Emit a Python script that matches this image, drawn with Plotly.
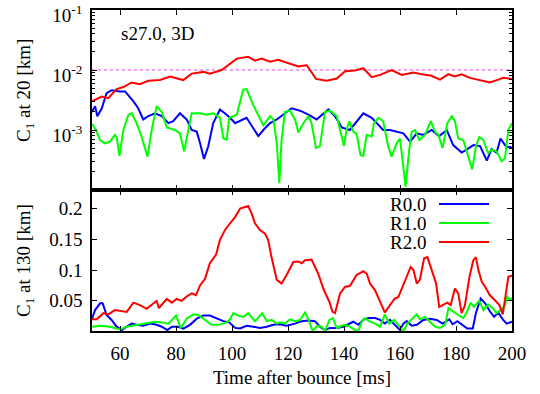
import plotly.graph_objects as go

# ---------------- data ----------------
# Top panel: C1 at 20 km (log scale)
top_r0_t = [50, 51.1, 51.9, 53.5, 55.2, 57, 60, 61.8, 64.8, 66.5, 68.3, 70.1, 72.5, 74.9, 77.3, 79, 81.4, 83.8,
            85.6, 87.4, 88.6, 90, 91.5, 93.3, 95.7, 98.1, 100.5, 101.1, 105.2, 107, 109.4, 111.2, 113.6, 116,
            118.3, 121.3, 124.3, 127.3, 130.2, 134.4, 136.8, 139.2, 142.1, 144.5, 146.9, 149.9, 151.7, 154,
            156.4, 158.8, 161.2, 163.6, 166, 168.3, 171.3, 174, 176.7, 179, 182, 183.8, 186.2, 188.6, 191,
            192.7, 194.5, 195.9, 197.9, 200]
top_r0_v = [0.0020, 0.0025, 0.0017, 0.0023, 0.0041, 0.0046, 0.0044, 0.0044, 0.0030, 0.0023, 0.0015, 0.0017,
            0.0019, 0.0017, 0.0013, 0.0014, 0.0019, 0.0015, 0.0010, 0.00094, 0.0006, 0.00033, 0.00053, 0.0013,
            0.0022, 0.0018, 0.0014, 0.0013, 0.0016, 0.0012, 0.00079, 0.0010, 0.0013, 0.0015, 0.0018, 0.0023,
            0.0021, 0.0018, 0.0015, 0.0022, 0.0017, 0.0011, 0.0010, 0.0014, 0.0019, 0.0016, 0.0013, 0.0010,
            0.0010, 0.00094, 0.00088, 0.00064, 0.00088, 0.00083, 0.0010, 0.00079, 0.0010, 0.00056, 0.00042,
            0.00047, 0.00056, 0.00054, 0.00031, 0.00048, 0.00042, 0.00072, 0.00053, 0.00051]

top_r1_t = [50, 51.4, 52.9, 54.6, 56.4, 58.2, 58.8, 59.8, 61.2, 63, 64.2, 65.9, 67.7, 69.8, 71.3, 73.1, 74.9,
            76.7, 79.6, 81.4, 82.9, 85.6, 88.6, 90.9, 93.3, 95.7, 96.9, 98.1, 99, 100.5, 101.7, 104, 105.2,
            107.6, 110, 111.2, 113.6, 114.8, 116, 116.9, 117.7, 118.9, 120.7, 122.5, 123.7, 125.5, 127.3,
            128.4, 130, 131.4, 133.2, 135, 137.4, 140, 140.9, 141.9, 143.3, 144.5, 145.9, 146.9, 148.1, 149.9,
            150.7, 152.3, 154, 155.8, 157, 158.8, 160, 162, 163.3, 164.2, 165.4, 166.9, 168.9, 171, 172.5,
            173.7, 175.2, 176.9, 178.5, 179.6, 180.8, 182.6, 185.8, 187.1, 188.3, 189.8, 191.5, 192.7, 194.5,
            196.3, 197.5, 198.7, 200]
top_r1_v = [0.00126, 0.0010, 0.00068, 0.0006, 0.00064, 0.00083, 0.00076, 0.00037, 0.0010, 0.0018, 0.0019,
            0.0013, 0.00078, 0.00036, 0.0010, 0.0025, 0.0020, 0.0011, 0.0010, 0.00088, 0.00044, 0.0019, 0.0019,
            0.0018, 0.0019, 0.0016, 0.00073, 0.00069, 0.0016, 0.0017, 0.0018, 0.0047, 0.0048, 0.0026, 0.0016,
            0.0012, 0.0017, 0.0015, 0.0006, 0.00013, 0.00068, 0.0020, 0.0021, 0.0015, 0.00091, 0.0013, 0.0017,
            0.0013, 0.0005, 0.00054, 0.0020, 0.0021, 0.0017, 0.00054, 0.0010, 0.0014, 0.00094, 0.00086, 0.00038,
            0.00037, 0.00083, 0.00078, 0.0013, 0.0016, 0.0014, 0.00053, 0.00036, 0.0006, 0.00072, 0.000114,
            0.00047, 0.00094, 0.0010, 0.00068, 0.00083, 0.0014, 0.00094, 0.00083, 0.0005, 0.0013, 0.0017,
            0.0014, 0.00072, 0.00068, 0.00022, 0.00053, 0.00076, 0.00068, 0.00041, 0.00047, 0.00044, 0.0003,
            0.00034, 0.0010, 0.0013]

top_r2_t = [50, 53.5, 55.8, 58.8, 61.2, 64.2, 67.1, 70.1, 74.3, 77.9, 82.6, 85.6, 89.8, 92.1, 96.3, 99.3,
            101.7, 105.8, 108.2, 110.6, 113.6, 116.5, 120.1, 123.7, 126.7, 130, 133.8, 137.4, 140.4, 143.9,
            146.9, 149.9, 152.9, 157, 160.6, 164.8, 168.9, 171, 174.3, 177.3, 179.6, 182, 185, 188.6, 192.1,
            195.1, 196.9, 200]
top_r2_v = [0.0030, 0.0036, 0.0034, 0.0048, 0.0052, 0.0062, 0.0058, 0.0066, 0.0068, 0.0078, 0.0068, 0.0087,
            0.0093, 0.0087, 0.0100, 0.0129, 0.0155, 0.0166, 0.0143, 0.0155, 0.0138, 0.0148, 0.0129, 0.0115,
            0.0120, 0.0071, 0.0066, 0.0072, 0.0095, 0.0098, 0.0107, 0.0076, 0.0083, 0.0100, 0.0083, 0.0091,
            0.0083, 0.0081, 0.0069, 0.0085, 0.0078, 0.0085, 0.0074, 0.0068, 0.0062, 0.0069, 0.0074, 0.0071]

threshold = 0.01

# Bottom panel: C1 at 130 km (linear)
bot_r0_t = [50, 51.1, 52.9, 53.8, 55.2, 57, 58.8, 60.6, 62.4, 64.2, 65.9, 68.3, 70.7, 73.1, 74.9, 76.9, 78.5,
            80.8, 82.6, 85, 87.4, 89.8, 92.1, 94.5, 96.9, 99, 101.1, 102.9, 105.2, 107.6, 110, 112.4, 114.8,
            117.1, 119.5, 122.5, 124.9, 127.3, 129.6, 131.4, 133.2, 135, 137.4, 139.8, 141.5, 143.3, 145.1,
            146.9, 148.7, 151.1, 152.9, 154.6, 156.4, 158.2, 160, 161.2, 162.4, 164.2, 166, 168.3, 170.7,
            173.1, 175.2, 177.6, 178.8, 180.5, 182.4, 184, 186, 187.1, 188.8, 190.4, 192.1, 193.6, 195.1,
            196.7, 198.1, 200]
bot_r0_v = [0.021, 0.035, 0.046, 0.046, 0.027, 0.019, 0.008, 0.0025, 0.008, 0.013, 0.011, 0.0095, 0.013, 0.011,
            0.008, 0.0025, 0.008, 0.008, 0.005, 0.011, 0.021, 0.026, 0.026, 0.021, 0.017, 0.015, 0.006, 0.005,
            0.0095, 0.008, 0.006, 0.008, 0.011, 0.012, 0.0095, 0.013, 0.017, 0.018, 0.017, 0.008, 0.0025,
            0.006, 0.006, 0.008, 0.012, 0.016, 0.011, 0.019, 0.022, 0.022, 0.019, 0.013, 0.019, 0.011, 0.0025,
            0.013, 0.017, 0.0095, 0.011, 0.019, 0.021, 0.019, 0.013, 0.020, 0.012, 0.017, 0.011, 0.005, 0.005,
            0.030, 0.054, 0.046, 0.033, 0.024, 0.031, 0.020, 0.013, 0.016]

bot_r1_t = [50, 52.9, 56.4, 60, 62.4, 65.9, 69.5, 72.5, 74.9, 77.3, 80, 81.7, 83.8, 86.2, 88, 90.4, 92.7, 95.1,
            98.1, 99.3, 100.5, 102.2, 104, 105.8, 108.2, 110.8, 112.4, 114.2, 116, 117.1, 118.9, 120.7, 122.5,
            124.3, 126.1, 127.3, 128.8, 130.5, 132, 133.2, 134.8, 136, 137.4, 139.2, 140.4, 142.1, 143.9,
            145.1, 146.3, 147.5, 149, 151.1, 152.9, 154.6, 156.2, 157.9, 159.8, 161.2, 162.6, 164.5, 166,
            167.1, 168.9, 170.7, 172.5, 174.3, 176.1, 177.3, 179, 180.8, 182.6, 183.8, 185.2, 186.4, 188.3,
            189.8, 191.5, 193.1, 194.5, 195.9, 197.5, 198.3, 199.3, 200]
bot_r1_v = [0.008, 0.0095, 0.008, 0.0035, 0.008, 0.011, 0.013, 0.016, 0.015, 0.013, 0.026, 0.006, 0.021,
            0.028, 0.027, 0.019, 0.011, 0.011, 0.015, 0.020, 0.030, 0.026, 0.024, 0.030, 0.017, 0.030, 0.017,
            0.019, 0.013, 0.015, 0.013, 0.020, 0.017, 0.019, 0.031, 0.020, 0.001, 0.0095, 0.008, 0.001, 0.019,
            0.022, 0.006, 0.0095, 0.011, 0.008, 0.0025, 0.001, 0.016, 0.022, 0.017, 0.013, 0.008, 0.028, 0.013,
            0.019, 0.008, 0.0005, 0.013, 0.021, 0.028, 0.020, 0.024, 0.016, 0.008, 0.006, 0.011, 0.038, 0.032,
            0.027, 0.022, 0.031, 0.047, 0.040, 0.050, 0.035, 0.044, 0.038, 0.030, 0.035, 0.043, 0.057, 0.051,
            0.055]

bot_r2_t = [50, 51.7, 54.1, 55.8, 58.2, 60.6, 62.4, 64.8, 67.1, 69.5, 71.9, 73.1, 73.9, 76.7, 78.5, 80.2, 82,
            83.8, 85.6, 87.1, 88.6, 90.4, 92.1, 94.3, 95.7, 97.5, 99.3, 101.1, 102.9, 105.8, 107, 108.2, 110,
            111.8, 112.9, 114.2, 116, 117.7, 119.5, 121.9, 123.7, 124.9, 126.1, 128.4, 130.8, 132.6, 134.8,
            135.9, 136.8, 138.6, 140.4, 142.1, 144.5, 146.9, 148.1, 149.3, 151.1, 152.9, 154.6, 156.4, 158.2,
            159.4, 160.6, 162.4, 163.8, 164.8, 166, 167.1, 168.6, 169.8, 170.7, 171.9, 172.9, 174, 175.5,
            176.9, 178.1, 179.6, 180.8, 182, 183.2, 184.8, 186.2, 187.1, 188, 189.2, 190.4, 192.1, 193.9,
            195.5, 196.7, 197.9, 198.7, 200]
bot_r2_v = [0.020, 0.020, 0.030, 0.028, 0.035, 0.033, 0.032, 0.047, 0.043, 0.037, 0.046, 0.050, 0.038, 0.053,
            0.047, 0.053, 0.050, 0.057, 0.062, 0.059, 0.075, 0.086, 0.111, 0.125, 0.149, 0.165, 0.176, 0.186,
            0.200, 0.204, 0.192, 0.176, 0.165, 0.159, 0.149, 0.119, 0.084, 0.078, 0.092, 0.113, 0.114, 0.111,
            0.116, 0.117, 0.094, 0.070, 0.048, 0.032, 0.030, 0.062, 0.073, 0.074, 0.092, 0.098, 0.094, 0.078,
            0.067, 0.048, 0.031, 0.043, 0.054, 0.056, 0.070, 0.092, 0.105, 0.100, 0.078, 0.084, 0.119, 0.121,
            0.108, 0.093, 0.078, 0.040, 0.043, 0.047, 0.043, 0.070, 0.062, 0.030, 0.043, 0.089, 0.116, 0.121,
            0.100, 0.081, 0.073, 0.059, 0.051, 0.043, 0.028, 0.070, 0.089, 0.091]

series_names = ["R0.0", "R1.0", "R2.0"]
series_colors = ["#0000ff", "#00ff00", "#ff0000"]

x_ticks = [60, 80, 100, 120, 140, 160, 180, 200]
top_ticks = [1e-3, 1e-2, 1e-1]
top_ticktext = ["10<sup>-3</sup>", "10<sup>-2</sup>", "10<sup>-1</sup>"]
bot_ticks = [0.05, 0.1, 0.15, 0.2]
bot_ticktext = ["0.05", "0.1", "0.15", "0.2"]

# ---------------- figure ----------------
FONT = "Liberation Serif, Times New Roman, DejaVu Serif, serif"
FS = 19
W, H = 540, 394
ML, MR, MT, MB = 92, 28, 10, 63
split = 141 / 321.0

fig = go.Figure()

tops = [(top_r0_t, top_r0_v), (top_r1_t, top_r1_v), (top_r2_t, top_r2_v)]
bots = [(bot_r0_t, bot_r0_v), (bot_r1_t, bot_r1_v), (bot_r2_t, bot_r2_v)]

fig.add_trace(go.Scatter(x=[50, 200], y=[threshold, threshold], mode="lines",
                         line=dict(color="#ee82ee", width=1.5, dash="dot"),
                         xaxis="x2", yaxis="y", showlegend=False, hoverinfo="skip"))

for (t, v), name, col in zip(tops, series_names, series_colors):
    fig.add_trace(go.Scatter(x=t, y=v, mode="lines", name=name, line=dict(color=col, width=2),
                             xaxis="x2", yaxis="y", showlegend=False))
for (t, v), name, col in zip(bots, series_names, series_colors):
    fig.add_trace(go.Scatter(x=t, y=v, mode="lines", name=name, line=dict(color=col, width=2),
                             xaxis="x", yaxis="y2", showlegend=False))

axis_common = dict(showline=True, linecolor="black", linewidth=1.5, mirror="ticks",
                   ticks="inside", ticklen=5, tickwidth=1, tickcolor="black",
                   showgrid=False, zeroline=False, automargin=False, ticklabeloverflow="allow",
                   tickfont=dict(family=FONT, size=FS, color="black"))

fig.update_layout(
    template="none",
    width=W, height=H,
    margin=dict(l=ML, r=MR, t=MT, b=MB, autoexpand=False),
    paper_bgcolor="white", plot_bgcolor="white",
    font=dict(family=FONT, size=FS, color="black"),
    showlegend=False,
    xaxis=dict(domain=[0, 1], anchor="y2", range=[50, 200], tickvals=x_ticks,
               title=dict(text="Time after bounce [ms]", font=dict(family=FONT, size=FS), standoff=8),
               ticklabelstandoff=4, **axis_common),
    xaxis2=dict(domain=[0, 1], anchor="y", range=[50, 200], matches="x", tickvals=x_ticks,
                showticklabels=False, **axis_common),
    yaxis=dict(domain=[split, 1], anchor="x2", type="log", range=[-4, -1], tickvals=top_ticks,
               ticktext=top_ticktext, ticklabelstandoff=4, ticklabelshift=5,
               minor=dict(ticks="inside", ticklen=3, tickcolor="black",
                          tickvals=[k * 10.0 ** e for e in (-4, -3, -2) for k in range(2, 10)]),
               **axis_common),
    yaxis2=dict(domain=[0, split], anchor="x", range=[0.001, 0.23], tickvals=bot_ticks,
                ticktext=bot_ticktext, ticklabelstandoff=4, **axis_common),
)

def px_to_paper_x(px):
    return (px - ML) / (W - ML - MR)

def py_to_paper_y(py):
    return (H - MB - py) / (H - MT - MB)

# y-axis titles (placed as in the reference)
fig.add_annotation(text="C<sub>1</sub> at 20 [km]", textangle=-90, xref="paper", yref="paper",
                   x=px_to_paper_x(25), y=py_to_paper_y(91), xanchor="center", yanchor="middle",
                   showarrow=False, font=dict(family=FONT, size=FS))
fig.add_annotation(text="C<sub>1</sub> at 130 [km]", textangle=-90, xref="paper", yref="paper",
                   x=px_to_paper_x(25), y=py_to_paper_y(261), xanchor="center", yanchor="middle",
                   showarrow=False, font=dict(family=FONT, size=FS))

# model label
fig.add_annotation(text="s27.0, 3D", xref="paper", yref="paper", x=px_to_paper_x(119),
                   y=py_to_paper_y(33), xanchor="left", yanchor="middle", showarrow=False,
                   font=dict(family=FONT, size=FS))

# gnuplot-style key (text right-aligned, sample to the right)
key_rows = [204, 223, 242]
for name, col, py in zip(series_names, series_colors, key_rows):
    fig.add_annotation(text=name, xref="paper", yref="paper", x=px_to_paper_x(428),
                       y=py_to_paper_y(py), xanchor="right", yanchor="middle", showarrow=False,
                       font=dict(family=FONT, size=FS))
    fig.add_shape(type="line", xref="paper", yref="paper",
                  x0=px_to_paper_x(439), x1=px_to_paper_x(489),
                  y0=py_to_paper_y(py), y1=py_to_paper_y(py),
                  line=dict(color=col, width=2))

fig.write_html("out.html")
